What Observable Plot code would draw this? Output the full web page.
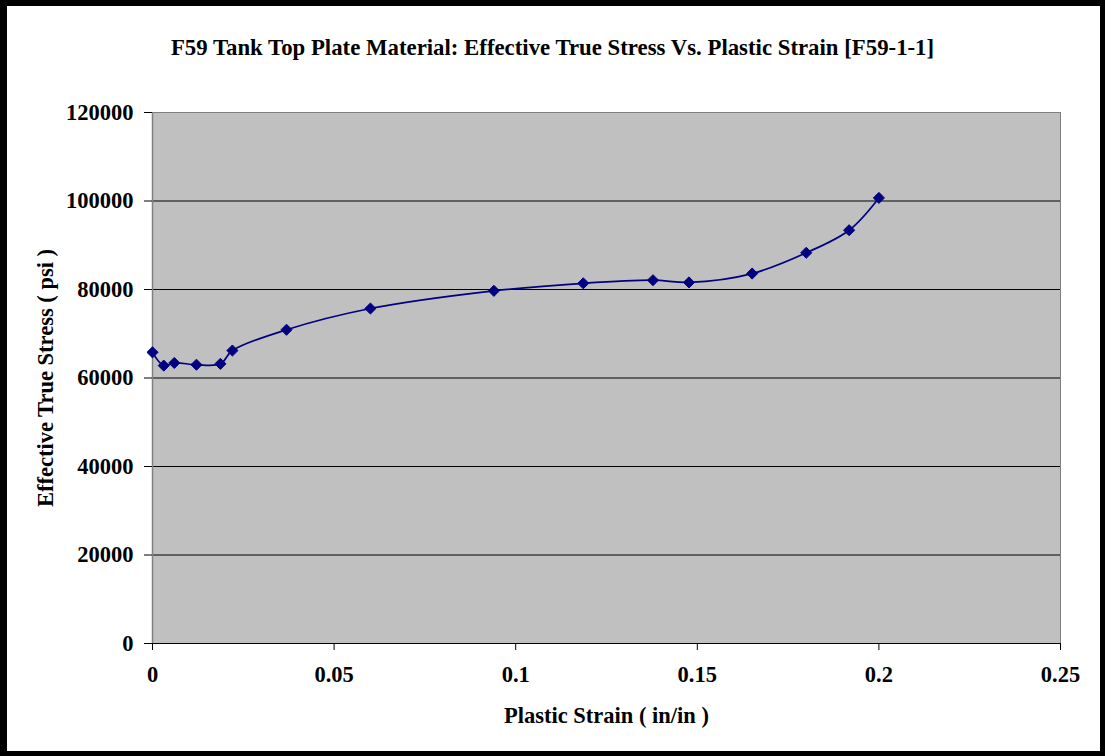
<!DOCTYPE html>
<html><head><meta charset="utf-8">
<script src="https://cdn.jsdelivr.net/npm/d3@7"></script>
<script src="https://cdn.jsdelivr.net/npm/@observablehq/plot@0.6"></script>
<style>
body{margin:0;background:#fff}
#wrap{position:relative;width:1105px;height:756px;overflow:hidden}
#wrap svg{position:absolute;left:0;top:0}
#border{position:absolute;left:0;top:0;width:1105px;height:756px;box-sizing:border-box;border-style:solid;border-color:#000;border-width:6px 5px 5px 7px;pointer-events:none}
</style></head><body><div id="wrap"><div id="border"></div></div>
<script>
const strain = [0, 0.0031, 0.006, 0.0121, 0.0187, 0.022, 0.0369, 0.060, 0.094, 0.1186, 0.1378, 0.1477, 0.1651, 0.180, 0.1918, 0.200];
const stress = [65800, 62800, 63400, 63000, 63200, 66200, 70900, 75700, 79700, 81400, 82100, 81600, 83600, 88300, 93400, 100700];
const xTicks = [0, 0.05, 0.1, 0.15, 0.2, 0.25];
const yTicks = [0, 20000, 40000, 60000, 80000, 100000, 120000];
const titleText = "F59 Tank Top Plate Material: Effective True Stress Vs. Plastic Strain [F59-1-1]";
const xLabel = "Plastic Strain ( in/in )";
const yLabel = "Effective True Stress ( psi )";

const data = strain.map((x, i) => ({x, y: stress[i]}));
const font = "'Liberation Serif','Times New Roman',serif";

const chart = Plot.plot({
  width: 1105, height: 756,
  marginLeft: 152, marginRight: 45, marginTop: 112, marginBottom: 113,
  style: {fontFamily: font, fontWeight: "bold", fontSize: "22.5px", background: "transparent", color: "#000", overflow: "visible"},
  x: {domain: [0, 0.25]},
  y: {domain: [0, 120000]},
  marks: [
    Plot.frame({fill: "#C0C0C0", stroke: "#808080"}),
    Plot.ruleY(yTicks.slice(1, -1), {stroke: "#000", strokeWidth: 1}),
    Plot.ruleX([0], {stroke: "#808080", strokeWidth: 1.5}),
    Plot.ruleY([0], {stroke: "#000", strokeWidth: 1.2}),
    Plot.axisY({ticks: yTicks, tickSize: 8, tickPadding: 11, tickFormat: d => String(d), label: null, fontSize: 22.5, fontWeight: "bold"}),
    Plot.axisX({ticks: xTicks, tickSize: 7, tickPadding: 16, tickFormat: d => String(d), label: null, fontSize: 22.5, fontWeight: "bold"}),
    Plot.line(data, {x: "x", y: "y", stroke: "#000080", strokeWidth: 1.7, curve: "catmull-rom"}),
    Plot.dot(data, {x: "x", y: "y", symbol: "diamond2", r: 5, fill: "#000080", stroke: "#000080", strokeWidth: 1}),
    Plot.text([titleText], {frameAnchor: "top-left", dx: 400, dy: -65, text: d => d, textAnchor: "middle", lineAnchor: "middle", fontSize: 22.8, fontWeight: "bold", fill: "#000"}),
    Plot.text([xLabel], {frameAnchor: "bottom", dy: 72, text: d => d, textAnchor: "middle", lineAnchor: "middle", fontSize: 22.5, fontWeight: "bold", fill: "#000"}),
    Plot.text([yLabel], {frameAnchor: "left", dx: -107, rotate: -90, text: d => d, textAnchor: "middle", lineAnchor: "middle", fontSize: 22.5, fontWeight: "bold", fill: "#000"})
  ]
});
document.getElementById("wrap").insertBefore(chart, document.getElementById("border"));
</script>
</body></html>
